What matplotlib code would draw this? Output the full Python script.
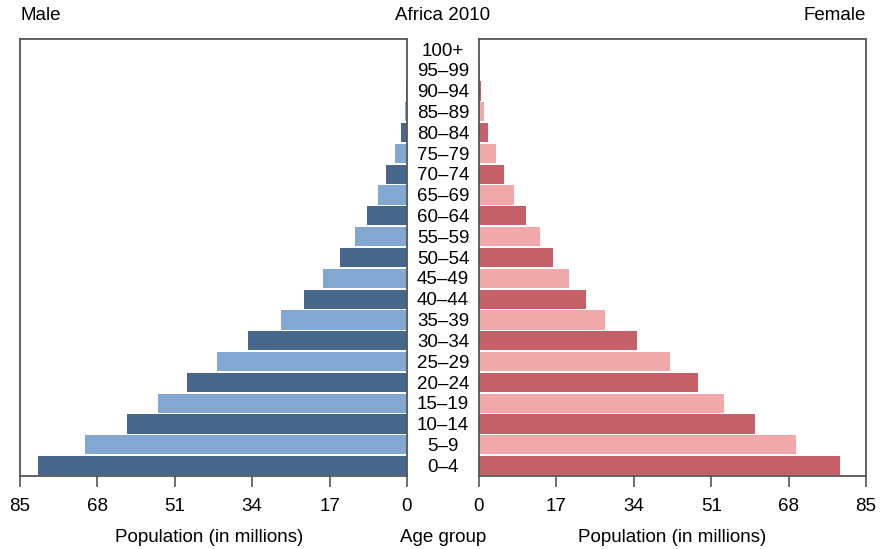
import matplotlib.pyplot as plt

plt.rcParams['font.family'] = ['Liberation Sans', 'DejaVu Sans']

age_groups = ["0–4", "5–9", "10–14", "15–19", "20–24", "25–29", "30–34",
              "35–39", "40–44", "45–49", "50–54", "55–59", "60–64", "65–69",
              "70–74", "75–79", "80–84", "85–89", "90–94", "95–99", "100+"]
male = [81.1, 70.8, 61.5, 54.7, 48.4, 41.8, 34.9, 27.7, 22.6, 18.5, 14.7,
        11.4, 8.8, 6.4, 4.6, 2.6, 1.3, 0.5, 0.25, 0.07, 0.01]
female = [79.3, 69.7, 60.7, 53.8, 48.1, 42.0, 34.7, 27.7, 23.5, 19.8, 16.3,
          13.4, 10.3, 7.7, 5.6, 3.7, 2.0, 1.1, 0.45, 0.12, 0.02]
ticks = [0, 17, 34, 51, 68, 85]

male_cols = ["#46678a", "#82a7d0"]
female_cols = ["#c55f68", "#f0a8aa"]
spine_col = "#555555"
fs = 13.5

fig = plt.figure(figsize=(8.81, 5.49), dpi=100)
ax_m = fig.add_axes([20 / 881, 1 - 476 / 549, 387 / 881, 437 / 549])
ax_f = fig.add_axes([479 / 881, 1 - 476 / 549, 387 / 881, 437 / 549])

y = list(range(len(age_groups)))
ax_m.barh(y, male, height=0.92,
          color=[male_cols[i % 2] for i in y], edgecolor="none")
ax_f.barh(y, female, height=0.92,
          color=[female_cols[i % 2] for i in y], edgecolor="none")

ax_m.set_xlim(85, 0)
ax_f.set_xlim(0, 85)

for ax in (ax_m, ax_f):
    ax.set_ylim(-0.5, len(age_groups) - 0.5)
    ax.set_yticks([])
    ax.set_xticks(ticks)
    ax.set_xticklabels([str(t) for t in ticks], fontsize=fs)
    ax.tick_params(axis="x", direction="out", length=8, width=1.2,
                   color=spine_col, pad=8)
    for s in ax.spines.values():
        s.set_color(spine_col)
        s.set_linewidth(1.3)

for i, lab in enumerate(age_groups):
    fig.text(443 / 881,
             ax_m.transData.transform((0, i - 0.08))[1] / fig.bbox.height,
             lab, ha="center", va="center", fontsize=fs)

fig.text(20 / 881, 1 - 16 / 549, "Male", ha="left", va="center", fontsize=fs)
fig.text(866 / 881, 1 - 16 / 549, "Female", ha="right", va="center",
         fontsize=fs)
fig.text(443 / 881, 1 - 16 / 549, "Africa 2010", ha="center", va="center",
         fontsize=fs)
fig.text(443 / 881, 1 - 538 / 549, "Age group", ha="center", va="center",
         fontsize=fs)
fig.text(209 / 881, 1 - 538 / 549, "Population (in millions)", ha="center",
         va="center", fontsize=fs)
fig.text(672 / 881, 1 - 538 / 549, "Population (in millions)", ha="center",
         va="center", fontsize=fs)

fig.savefig("out.png", dpi=100)
